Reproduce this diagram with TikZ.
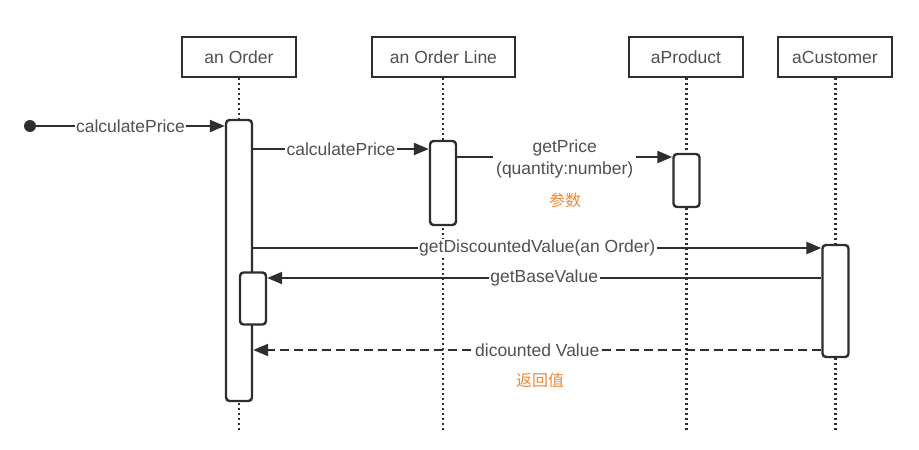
\documentclass[tikz,border=0pt]{standalone}
\usepackage{fontspec}
\setmainfont{Liberation Sans}
\newfontfamily\cjk{Noto Sans CJK SC}
\usetikzlibrary{arrows.meta}
\definecolor{ln}{HTML}{2E2E2E}
\definecolor{tx}{HTML}{505050}
\definecolor{org}{HTML}{F5862F}
\tikzset{
  head/.style={draw=ln, line width=2.5pt, fill=white, minimum height=40pt, inner sep=0pt, text=tx, font=\fontsize{17.5}{20}\selectfont},
  life/.style={draw=ln, line width=2.2pt, dash pattern=on 2.2pt off 2.8pt},
  act/.style={draw=ln, line width=2.4pt, fill=white, rounded corners=3.5pt, minimum width=26pt, inner sep=0pt},
  msg/.style={draw=ln, line width=2.3pt, -{Triangle[length=15pt,width=12pt]}},
  ret/.style={msg, dash pattern=on 9pt off 5pt},
  lbl/.style={fill=white, text=tx, inner xsep=1.5pt, inner ysep=1pt, font=\fontsize{17.5}{20}\selectfont},
  note/.style={text=org, font=\cjk\fontsize{16}{18}\selectfont},
  startdot/.style={circle, fill=ln, minimum size=12pt, inner sep=0pt},
}
\begin{document}
\begin{tikzpicture}[x=1pt, y=-1pt]
\useasboundingbox (0,0) rectangle (919,450);
% heads
\node[head, minimum width=114pt] (h1) at (239,57) {an Order};
\node[head, minimum width=143pt] (h2) at (443.5,57) {an Order Line};
\node[head, minimum width=114pt] (h3) at (686,57) {aProduct};
\node[head, minimum width=114pt] (h4) at (835,57) {aCustomer};
% lifeline ends
\coordinate (e1) at (239,430);
\coordinate (e2) at (443,430);
\coordinate (e3) at (686.5,430);
\coordinate (e4) at (835.5,430);
\draw[life] (h1.south) -- (e1);
\draw[life] (h2.south -| e2) -- (e2);
\draw[life] (h3.south -| e3) -- (e3);
\draw[life] (h4.south -| e4) -- (e4);
% activations
\node[act, minimum height=281pt] (a1) at (239,260.5) {};
\node[act, minimum height=84pt] (a2) at (443,183) {};
\node[act, minimum height=53pt] (a3) at (686.5,180.5) {};
\node[act, minimum height=112pt] (a4) at (835.5,301) {};
\node[act, minimum height=52pt] (a5) at (253,298.5) {};
% message rows
\coordinate (m2) at (0,149);
\coordinate (m3) at (0,157);
\coordinate (m4) at (0,248);
\coordinate (m5) at (0,278);
\coordinate (m6) at (0,350);
% messages
\node[startdot] (st) at (30,126) {};
\draw[msg] (st) -- node[lbl] {calculatePrice} (a1.west |- st);
\draw[msg] (a1.east |- m2) -- node[lbl] {calculatePrice} (a2.west |- m2);
\draw[msg] (a2.east |- m3) -- node[lbl, align=center, yshift=-2pt, inner xsep=3pt, font=\fontsize{17.5}{22}\selectfont] {getPrice\\(quantity:number)} (a3.west |- m3);
\draw[msg] (a1.east |- m4) -- node[lbl] {getDiscountedValue(an Order)} (a4.west |- m4);
\draw[msg] (a4.west |- m5) -- node[lbl] {getBaseValue} (a5.east |- m5);
\draw[ret] (a4.west |- m6) -- node[lbl, inner xsep=3pt] {dicounted Value} (a1.east |- m6);
% notes
\node[note] (n1) at (565,200) {参数};
\node[note] (n2) at (540,380) {返回值};
\end{tikzpicture}
\end{document}
